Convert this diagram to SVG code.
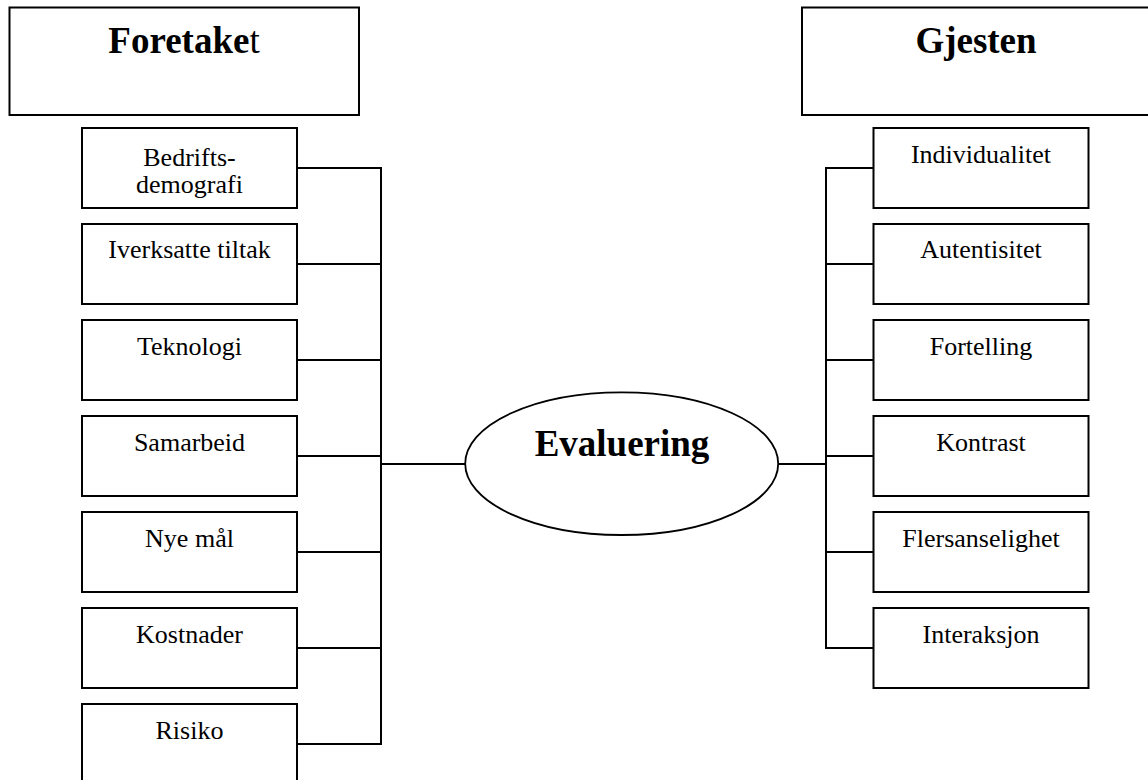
<svg xmlns="http://www.w3.org/2000/svg" width="1148" height="780" viewBox="0 0 1148 780">
<style>
.box{fill:#fff;stroke:#000;stroke-width:2}
.ell{fill:#fff;stroke:#000;stroke-width:1.8}
.ln{fill:none;stroke:#000;stroke-width:2}
.lbl{font-family:"Liberation Serif","Times New Roman",serif;font-size:26px;fill:#000;text-anchor:middle}
.hdr{font-family:"Liberation Serif","Times New Roman",serif;font-size:37px;font-weight:bold;fill:#000;text-anchor:middle}
</style>
<rect width="1148" height="780" fill="#fff"/>
<g id="connectors">
<path class="ln" d="M297 168H381M297 264H381M297 360H381M297 456H381M297 552H381M297 648H381M297 744H381M381 167V745M381 464H466"/>
<path class="ln" d="M778 464H826M826 167V649M826 168H873M826 264H873M826 360H873M826 456H873M826 552H873M826 648H873"/>
</g>
<g id="foretaket"><rect class="box" x="9.5" y="7.5" width="349.5" height="107.5"/><text class="hdr" x="184" y="53">Foretake<tspan font-weight="normal">t</tspan></text></g>
<g id="gjesten"><rect class="box" x="802" y="7.5" width="348" height="107.5"/><text class="hdr" x="976" y="53">Gjesten</text></g>
<g id="evaluering"><ellipse class="ell" cx="621.7" cy="463.7" rx="156.5" ry="71.3"/><text class="hdr" x="622" y="456">Evaluering</text></g>
<g id="bedrifts"><rect class="box" x="82" y="128" width="215" height="80"/><text class="lbl" x="189.5" y="166">Bedrifts-</text><text class="lbl" x="189.5" y="193">demografi</text></g>
<g id="iverksatte"><rect class="box" x="82" y="224" width="215" height="80"/><text class="lbl" x="189.5" y="258">Iverksatte tiltak</text></g>
<g id="teknologi"><rect class="box" x="82" y="320" width="215" height="80"/><text class="lbl" x="189.5" y="355">Teknologi</text></g>
<g id="samarbeid"><rect class="box" x="82" y="416" width="215" height="80"/><text class="lbl" x="189.5" y="451">Samarbeid</text></g>
<g id="nyemal"><rect class="box" x="82" y="512" width="215" height="80"/><text class="lbl" x="189.5" y="547">Nye mål</text></g>
<g id="kostnader"><rect class="box" x="82" y="608" width="215" height="80"/><text class="lbl" x="189.5" y="643">Kostnader</text></g>
<g id="risiko"><rect class="box" x="82" y="704" width="215" height="80"/><text class="lbl" x="189.5" y="739">Risiko</text></g>
<g id="individualitet"><rect class="box" x="873.5" y="128" width="215" height="80"/><text class="lbl" x="981" y="163">Individualitet</text></g>
<g id="autentisitet"><rect class="box" x="873.5" y="224" width="215" height="80"/><text class="lbl" x="981" y="258">Autentisitet</text></g>
<g id="fortelling"><rect class="box" x="873.5" y="320" width="215" height="80"/><text class="lbl" x="981" y="355">Fortelling</text></g>
<g id="kontrast"><rect class="box" x="873.5" y="416" width="215" height="80"/><text class="lbl" x="981" y="451">Kontrast</text></g>
<g id="flersanselighet"><rect class="box" x="873.5" y="512" width="215" height="80"/><text class="lbl" x="981" y="547">Flersanselighet</text></g>
<g id="interaksjon"><rect class="box" x="873.5" y="608" width="215" height="80"/><text class="lbl" x="981" y="643">Interaksjon</text></g>
</svg>
